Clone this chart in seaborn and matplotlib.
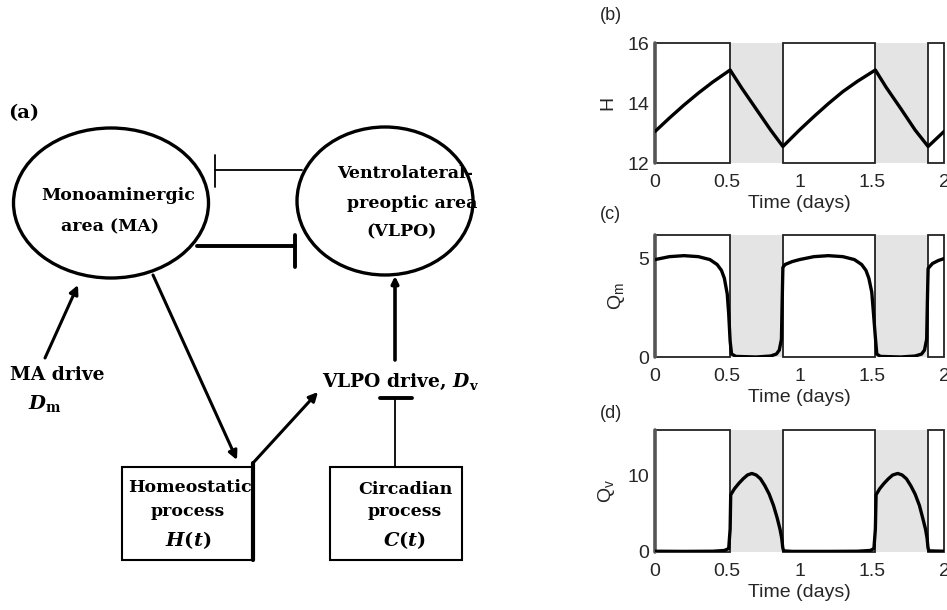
import numpy as np
import pandas as pd
import seaborn as sns
import matplotlib
matplotlib.use("Agg")
import matplotlib.pyplot as plt
from matplotlib.patches import Ellipse, Rectangle

# ---------------- data ----------------
sleep_onsets = [0.52, 1.525]
sleep_offsets = [0.885, 1.89]
t_start, t_end = 0.0, 2.0
x_ticks = [0, 0.5, 1, 1.5, 2]
x_tick_labels = ["0", "0.5", "1", "1.5", "2"]

# homeostatic pressure H
t_H = [0.0, 0.1, 0.2, 0.3, 0.4, 0.52, 0.6, 0.7, 0.8, 0.885,
       1.0, 1.1, 1.2, 1.3, 1.4, 1.525, 1.6, 1.7, 1.8, 1.89, 2.0]
H = [13.05, 13.5, 13.93, 14.33, 14.7, 15.1, 14.5, 13.8, 13.1, 12.55,
     13.1, 13.55, 13.98, 14.38, 14.72, 15.1, 14.52, 13.82, 13.1, 12.55, 13.05]
H_ticks = [12, 14, 16]

# MA firing rate Q_m
t_Qm = [0.0, 0.1, 0.2, 0.3, 0.38, 0.43, 0.46, 0.48, 0.5, 0.51, 0.52, 0.53, 0.56,
        0.7, 0.8, 0.84, 0.86, 0.875, 0.88, 0.885, 0.9, 0.95,
        1.0, 1.1, 1.2, 1.3, 1.38, 1.43, 1.46, 1.48, 1.5, 1.51, 1.525, 1.535, 1.56,
        1.7, 1.8, 1.845, 1.865, 1.88, 1.885, 1.89, 1.92, 1.96, 2.0]
Qm = [4.95, 5.1, 5.15, 5.1, 4.95, 4.7, 4.4, 4.0, 3.2, 2.2, 0.8, 0.15, 0.03,
      0.0, 0.05, 0.15, 0.35, 0.9, 2.8, 4.55, 4.7, 4.85,
      4.95, 5.1, 5.15, 5.1, 4.95, 4.7, 4.4, 4.0, 3.3, 2.4, 1.0, 0.15, 0.03,
      0.0, 0.05, 0.15, 0.35, 0.9, 2.8, 4.5, 4.75, 4.9, 5.0]
Qm_ticks = [0, 5]

# VLPO firing rate Q_v
t_Qv = [0.0, 0.2, 0.4, 0.48, 0.51, 0.52, 0.524, 0.55, 0.58, 0.61, 0.64, 0.67,
        0.7, 0.73, 0.76, 0.79, 0.82, 0.845, 0.865, 0.877, 0.884, 0.89, 0.95,
        1.2, 1.4, 1.49, 1.515, 1.525, 1.53, 1.555, 1.585, 1.615, 1.645, 1.68,
        1.71, 1.74, 1.77, 1.8, 1.83, 1.852, 1.872, 1.883, 1.889, 1.895, 2.0]
Qv = [0.1, 0.08, 0.1, 0.2, 0.45, 3.0, 7.5, 8.3, 9.0, 9.6, 10.1, 10.3,
      10.1, 9.6, 8.7, 7.6, 6.1, 4.5, 3.0, 1.8, 0.6, 0.15, 0.08,
      0.08, 0.1, 0.2, 0.45, 3.0, 7.5, 8.3, 9.0, 9.6, 10.1, 10.3,
      10.1, 9.6, 8.7, 7.6, 6.1, 4.5, 3.0, 1.8, 0.6, 0.15, 0.1]
Qv_ticks = [0, 10]

# ---------------- style ----------------
sns.set_style("white")
plt.rcParams["font.family"] = ["Liberation Sans", "DejaVu Sans"]

W, Hpx = 947, 610
fig = plt.figure(figsize=(W / 100, Hpx / 100), dpi=100)
fig.patch.set_facecolor("white")

# ---------------- block diagram (a) ----------------
dg = fig.add_axes([0, 0, 1, 1])
dg.set_xlim(0, W)
dg.set_ylim(Hpx, 0)
dg.axis("off")

serif = dict(family=["DejaVu Serif"], weight="bold", color="black")
fs = 12.5
math = dict(math_fontfamily="dejavuserif", color="black")

dg.text(8, 113, "(a)", fontsize=14, ha="left", va="center", **serif)

dg.add_patch(Ellipse((111, 203), 195, 150, fill=False, lw=2.4, ec="black"))
dg.add_patch(Ellipse((385, 201), 176, 148, fill=False, lw=2.4, ec="black"))

dg.text(118, 195, "Monoaminergic", fontsize=fs, ha="center", va="center", **serif)
dg.text(110, 227, "area (MA)", fontsize=fs, ha="center", va="center", **serif)
dg.text(405, 173, "Ventrolateral-", fontsize=fs, ha="center", va="center", **serif)
dg.text(412, 203, "preoptic area", fontsize=fs, ha="center", va="center", **serif)
dg.text(402, 232, "(VLPO)", fontsize=fs, ha="center", va="center", **serif)

# mutual inhibition between MA and VLPO
dg.plot([302, 215], [170, 170], color="black", lw=1.3)
dg.plot([215, 215], [155, 187], color="black", lw=1.3)
dg.plot([197, 295], [246, 246], color="black", lw=2.8)
dg.plot([295, 295], [235, 267], color="black", lw=2.8)

arrow = dict(arrowstyle="-|>", color="black", lw=2.2, mutation_scale=13,
             shrinkA=0, shrinkB=0)
# MA drive -> MA
dg.annotate("", xy=(78, 285), xytext=(45, 358), arrowprops=arrow)
dg.text(10, 375, "MA drive", fontsize=13.5, ha="left", va="center", **serif)
dg.text(45, 403, r"$\boldsymbol{D}_\mathbf{m}$", fontsize=14, ha="center",
        va="center", **math)

# MA -> homeostatic process
dg.annotate("", xy=(237, 460), xytext=(153, 275), arrowprops=arrow)

# homeostatic box
dg.add_patch(Rectangle((122, 467), 131, 93, fill=False, lw=1.5, ec="black"))
dg.plot([253, 253], [463, 560], color="black", lw=3)
dg.text(190, 488, "Homeostatic", fontsize=fs, ha="center", va="center", **serif)
dg.text(188, 512, "process", fontsize=fs, ha="center", va="center", **serif)
dg.text(188, 540, r"$\boldsymbol{H}\mathbf{(}\boldsymbol{t}\mathbf{)}$",
        fontsize=14, ha="center", va="center", **math)

# homeostatic -> VLPO drive
dg.annotate("", xy=(318, 392), xytext=(253, 463), arrowprops=arrow)
dg.text(322, 382, r"VLPO drive, $\boldsymbol{D}_\mathbf{v}$", fontsize=13.5,
        ha="left", va="center", math_fontfamily="dejavuserif",
        family=["DejaVu Serif"], weight="bold", color="black")

# VLPO drive -> VLPO
dg.annotate("", xy=(395, 276), xytext=(395, 360),
            arrowprops=dict(arrow, lw=2.6, mutation_scale=10))

# circadian inhibition of VLPO drive
dg.plot([395, 395], [467, 398], color="black", lw=1.3)
dg.plot([380, 412], [398, 398], color="black", lw=2.8)

dg.add_patch(Rectangle((330, 467), 132, 93, fill=False, lw=1.5, ec="black"))
dg.text(405, 489, "Circadian", fontsize=fs, ha="center", va="center", **serif)
dg.text(405, 512, "process", fontsize=fs, ha="center", va="center", **serif)
dg.text(405, 540, r"$\boldsymbol{C}\mathbf{(}\boldsymbol{t}\mathbf{)}$",
        fontsize=14, ha="center", va="center", **math)


# ---------------- time-series panels ----------------
def px_axes(x0, y0, x1, y1):
    return fig.add_axes([x0 / W, 1 - y1 / Hpx, (x1 - x0) / W, (y1 - y0) / Hpx])


def shade(ax):
    wake_starts = [t_start] + sleep_offsets
    wake_ends = sleep_onsets + [t_end]
    for a, b in zip(sleep_onsets, sleep_offsets):
        ax.axvspan(a, b, facecolor="#e4e4e4", edgecolor="none", zorder=0)
    for a, b in zip(wake_starts, wake_ends):
        ax.axvspan(a, b, facecolor="white", edgecolor="#222222", lw=1.3,
                   zorder=1, clip_on=False)
    ax.axvline(t_start, color="#555555", lw=2.6, zorder=2, clip_on=False)


def style_panel(ax, ylim, yticks, ylabel, letter, label_y):
    ax.set_xlim(t_start, t_end)
    ax.set_ylim(*ylim)
    ax.set_xticks(x_ticks)
    ax.set_xticklabels(x_tick_labels)
    ax.set_yticks(yticks)
    ax.set_yticklabels([str(v) for v in yticks])
    for s in ax.spines.values():
        s.set_visible(False)
    ax.tick_params(axis="both", labelsize=14, length=0)
    ax.tick_params(axis="x", pad=8)
    ax.tick_params(axis="y", pad=4)
    ax.set_xlabel("Time (days)", fontsize=14, labelpad=3)
    ax.set_ylabel(ylabel, fontsize=14, labelpad=8)
    ax.set_facecolor("none")
    fig.text(600 / W, 1 - label_y / Hpx, letter, fontsize=13, ha="left",
             va="center")


line_kw = dict(color="black", lw=2.4, sort=False, estimator=None, zorder=3)

axb = px_axes(655, 43, 944, 163)
shade(axb)
sns.lineplot(x=t_H, y=H, ax=axb, **line_kw)
style_panel(axb, (12, 16), H_ticks, "H", "(b)", 16)

axc = px_axes(655, 235, 944, 357)
shade(axc)
sns.lineplot(x=t_Qm, y=Qm, ax=axc, **line_kw)
style_panel(axc, (0, 6.2), Qm_ticks, r"$\mathregular{Q_m}$", "(c)", 214)

axd = px_axes(655, 430, 944, 552)
shade(axd)
sns.lineplot(x=t_Qv, y=Qv, ax=axd, **line_kw)
style_panel(axd, (0, 16), Qv_ticks, r"$\mathregular{Q_v}$", "(d)", 414)

fig.savefig("out.png", dpi=100, facecolor="white")
